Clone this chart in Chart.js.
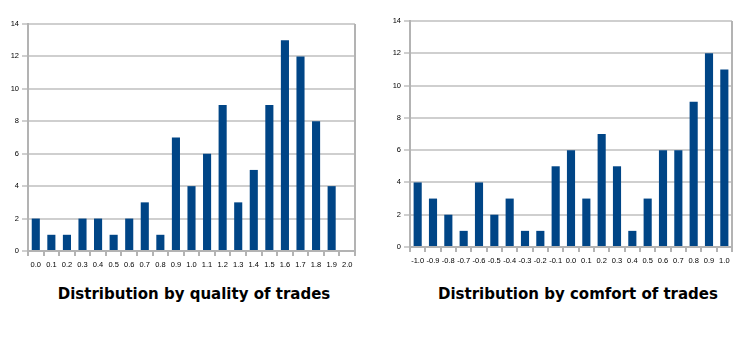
<!DOCTYPE html>
<html>
<head>
<meta charset="utf-8">
<script src="https://cdn.jsdelivr.net/npm/chart.js@4/dist/chart.umd.min.js"></script>
<style>
  html, body { margin: 0; padding: 0; background: #fff; }
  body { width: 746px; height: 343px; position: relative; overflow: hidden; }
  .panel { position: absolute; top: 0; width: 373px; height: 280px; }
  .title { position: absolute; font-family: "DejaVu Sans", sans-serif; font-weight: bold; font-size: 15px;
           color: #000; white-space: nowrap; transform: translateX(-50%); top: 285px; }
</style>
</head>
<body>
<div class="panel" style="left:0"><canvas id="c1" width="373" height="280"></canvas></div>
<div class="panel" style="left:373px"><canvas id="c2" width="373" height="280"></canvas></div>
<div class="title" style="left:194px">Distribution by quality of trades</div>
<div class="title" style="left:578px">Distribution by comfort of trades</div>
<script>
const qualityLabels = ["0.0","0.1","0.2","0.3","0.4","0.5","0.6","0.7","0.8","0.9","1.0","1.1","1.2","1.3","1.4","1.5","1.6","1.7","1.8","1.9","2.0"];
const qualityCounts = [2,1,1,2,2,1,2,3,1,7,4,6,9,3,5,9,13,12,8,4,0];
const comfortLabels = ["-1.0","-0.9","-0.8","-0.7","-0.6","-0.5","-0.4","-0.3","-0.2","-0.1","0.0","0.1","0.2","0.3","0.4","0.5","0.6","0.7","0.8","0.9","1.0"];
const comfortCounts = [4,3,2,1,4,2,3,1,1,5,6,3,7,5,1,3,6,6,9,12,11];
const yTicks = [0,2,4,6,8,10,12,14];

const BAR = '#004586';
const GRID = '#cfcfcf';
const AXIS = '#b3b3b3';

const rightBorder = {
  id: 'rightBorder',
  afterDatasetsDraw(chart) {
    const {ctx, chartArea} = chart;
    ctx.save();
    ctx.strokeStyle = AXIS;
    ctx.lineWidth = 2;
    ctx.beginPath();
    ctx.moveTo(chartArea.right, chartArea.top);
    ctx.lineTo(chartArea.right, chartArea.bottom);
    ctx.stroke();
    ctx.restore();
  }
};

function makeChart(id, labels, values, cfg) {
  return new Chart(document.getElementById(id), {
    type: 'bar',
    data: {
      labels: labels,
      datasets: [{ data: values, backgroundColor: BAR, borderWidth: 0,
                   categoryPercentage: 1.0, barPercentage: cfg.barPct }]
    },
    options: {
      responsive: false,
      animation: false,
      devicePixelRatio: 1,
      layout: { padding: { left: 0, right: cfg.padRight, top: cfg.padTop, bottom: 0 } },
      plugins: { legend: { display: false }, tooltip: { enabled: false } },
      scales: {
        x: {
          offset: true,
          grid: { offset: true, drawOnChartArea: false, drawTicks: true, tickLength: 5, color: AXIS, lineWidth: 2 },
          border: { color: AXIS, width: 2 },
          ticks: { color: '#000', font: { family: 'Liberation Sans', size: 7.5 }, padding: 4,
                   maxRotation: 0, minRotation: 0, autoSkip: false },
          afterFit(s) { s.height = cfg.xHeight; }
        },
        y: {
          min: 0, max: 14,
          afterBuildTicks(s) { s.ticks = yTicks.map(v => ({ value: v })); },
          grid: { color: GRID, lineWidth: 2, drawTicks: true, tickLength: 6 },
          border: { color: AXIS, width: 2 },
          ticks: { color: '#000', font: { family: 'Liberation Sans', size: 7.5 }, padding: 3 },
          afterFit(s) { s.width = cfg.yWidth; }
        }
      }
    },
    plugins: [rightBorder]
  });
}

makeChart('c1', qualityLabels, qualityCounts, { barPct: 0.52, padRight: 18, padTop: 24, xHeight: 29, yWidth: 28 });
makeChart('c2', comfortLabels, comfortCounts, { barPct: 0.53, padRight: 14, padTop: 21, xHeight: 33, yWidth: 37 });
</script>
</body>
</html>
